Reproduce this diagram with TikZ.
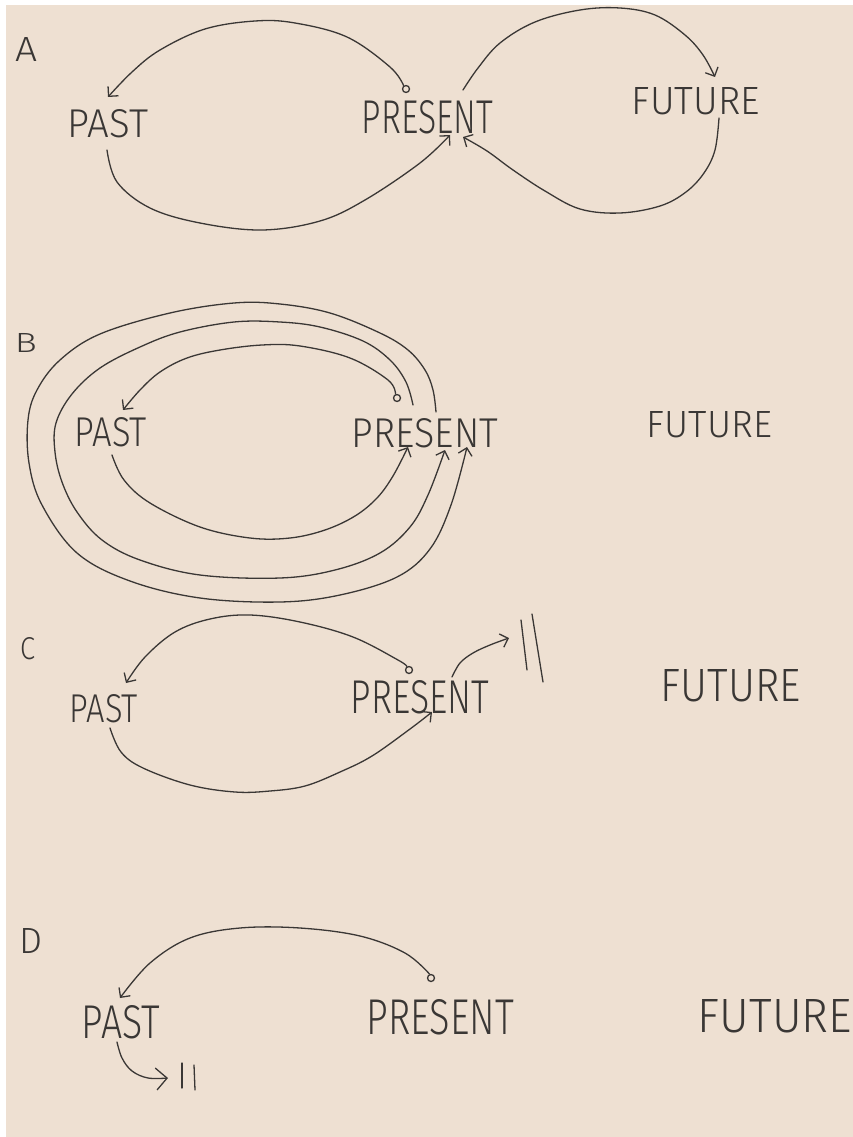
\documentclass[tikz,border=0pt]{standalone}
\usepackage{graphicx}
\usepackage{fontspec}
\newfontfamily\hand{Fira Sans Light}
\usetikzlibrary{arrows.meta}
\definecolor{paper}{RGB}{238,224,210}
\definecolor{ink}{RGB}{58,55,53}
\newcommand{\hw}[3]{\resizebox{#1pt}{#2pt}{\hand #3}}
\tikzset{
  lbl/.style={inner sep=0pt, text=ink},
  curve/.style={draw=ink, line width=1.3pt, line cap=round, line join=round},
  arr/.style={curve, -{Straight Barb[length=7pt,width=14pt]}},
  bigarr/.style={curve, -{Straight Barb[length=11pt,width=22pt]}},
  dot/.style={circle, draw=ink, line width=1.3pt, inner sep=0pt, minimum size=7pt},
  bar/.style={draw=ink, line width=1.3pt, line cap=round},
  sm/.style={smooth, tension=0.6}
}
\begin{document}
\begin{tikzpicture}[x=1pt,y=-1pt]
\fill[white] (0,0) rectangle (853,1137);
\fill[paper] (6,5) rectangle (853,1137);
\useasboundingbox (0,0) rectangle (853,1137);

% ---------- A ----------
\node[lbl] (lA) at (26.5,49.5) {\hw{22}{24}{A}};
\node[lbl] (pastA) at (108,124) {\hw{80}{28}{PAST}};
\node[lbl] (presA) at (427.5,117.5) {\hw{131}{33}{PRESENT}};
\node[lbl] (futA) at (696,101.5) {\hw{128}{27}{FUTURE}};
\node[dot] (cA) at (406,89) {};
\coordinate (pastAin) at (108,97);
\coordinate (pastAout) at (107,150);
\coordinate (presAinL) at (450,135);
\coordinate (presAout) at (463,90);
\coordinate (futAin) at (715,77);
\coordinate (futAout) at (719,118);
\coordinate (presAinR) at (463,137);
\draw[arr] plot[sm] coordinates {(cA.125) (390,67) (347,37) (295,23) (255,21) (205,29) (160,50) (132,72) (pastAin)};
\draw[arr] plot[sm] coordinates {(pastAout) (117,182) (150,208) (200,223) (262,230) (320,221) (365,200) (420,163) (presAinL)};
\draw[arr] plot[sm] coordinates {(presAout) (478,68) (500,43) (535,22) (580,10) (620,8) (655,15) (685,35) (703,55) (futAin)};
\draw[arr] plot[sm] coordinates {(futAout) (715,150) (704,173) (686,192) (660,206) (620,213) (580,209) (545,191) (513,170) (487,151) (presAinR)};

% ---------- B ----------
\node[lbl] (lB) at (26,342.5) {\hw{22}{19}{B}};
\node[lbl] (pastB) at (111,432.5) {\hw{72}{29}{PAST}};
\node[lbl] (presB) at (425,433) {\hw{146}{29}{PRESENT}};
\node[lbl] (futB) at (709.5,425) {\hw{125}{26}{FUTURE}};
\node[dot] (cB) at (397,398) {};
\coordinate (pastBin) at (123,410);
\coordinate (pastBout) at (112,455);
\coordinate (presBinA) at (408,447);
\coordinate (presBinB) at (445,450);
\coordinate (presBinC) at (467,447);
\coordinate (presBoutB) at (413,405);
\coordinate (presBoutC) at (436,412);
\draw[arr] plot[sm] coordinates {(cB.110) (388,380) (350,358) (300,346) (262,345) (220,350) (187,358) (160,372) (140,390) (pastBin)};
\draw[arr] plot[sm] coordinates {(pastBout) (124,480) (150,503) (200,527) (250,538) (290,538) (325,530) (355,516) (377,498) (393,476) (presBinA)};
\draw[arr] plot[sm] coordinates {(presBoutB) (406,382) (390,360) (363,341) (320,327) (280,322) (234,322) (180,332) (140,347) (100,368) (72,394) (56,423) (55,452) (62,482) (77,512) (102,540) (140,560) (200,575) (280,578) (335,570) (380,553) (410,527) (428,495) (presBinB)};
\draw[arr] plot[sm] coordinates {(presBoutC) (433,390) (425,370) (408,350) (380,333) (330,313) (280,304) (234,303) (170,313) (100,334) (60,360) (37,390) (28,420) (29,463) (42,505) (77,553) (130,581) (200,598) (280,602) (340,595) (397,577) (430,549) (451,505) (presBinC)};

% ---------- C ----------
\node[lbl] (lC) at (27.5,649) {\hw{15}{22}{C}};
\node[lbl] (pastC) at (104,709) {\hw{68}{28}{PAST}};
\node[lbl] (presC) at (420,697) {\hw{138}{33}{PRESENT}};
\node[lbl] (futC) at (731,686) {\hw{140}{32}{FUTURE}};
\node[dot] (cC) at (409,670) {};
\coordinate (pastCin) at (126,683);
\coordinate (pastCout) at (110,728);
\coordinate (presCin) at (432,712);
\coordinate (presCout) at (452,677);
\coordinate (stopC) at (509,638);
\draw[arr] plot[sm] coordinates {(cC.120) (398,660) (353,637) (300,622) (250,615) (210,619) (175,632) (145,657) (pastCin)};
\draw[arr] plot[sm] coordinates {(pastCout) (121,752) (143,768) (190,785) (235,792) (270,791) (305,786) (340,772) (372,756) (410,729) (presCin)};
\draw[arr] plot[sm] coordinates {(presCout) (460,663) (473,653) (490,645) (stopC)};
\draw[bar] (521,620) -- (527,670);
\draw[bar] (532,614) -- (543,682);

% ---------- D ----------
\node[lbl] (lD) at (31.5,940.5) {\hw{23}{25}{D}};
\node[lbl] (pastD) at (121,1022.5) {\hw{78}{33}{PAST}};
\node[lbl] (presD) at (440.5,1017.5) {\hw{147}{35}{PRESENT}};
\node[lbl] (futD) at (775,1016.5) {\hw{154}{33}{FUTURE}};
\node[dot] (cD) at (431,978) {};
\coordinate (pastDin) at (120,998);
\coordinate (pastDout) at (117,1042);
\coordinate (stopD) at (168,1078);
\draw[arr] plot[sm] coordinates {(cD.110) (405,953) (360,936) (300,928) (240,928) (190,938) (150,963) (pastDin)};
\draw[bigarr] plot[sm] coordinates {(pastDout) (122,1058) (132,1071) (148,1078) (stopD)};
\draw[bar] (182,1063) -- (182,1088);
\draw[bar] (194,1065) -- (195,1090);
\end{tikzpicture}
\end{document}
